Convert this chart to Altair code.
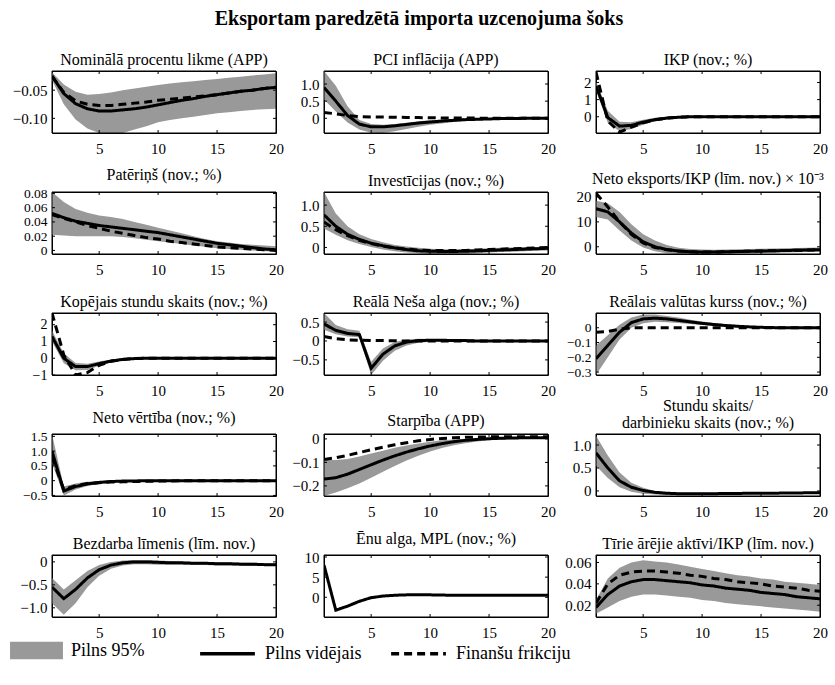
import altair as alt
import pandas as pd

X = list(range(1, 21))
BAND_NAME = "Pilns 95%"
MEAN_NAME = "Pilns vidējais"
FF_NAME = "Finanšu frikciju"

MAIN_TITLE = "Eksportam paredzētā importa uzcenojuma šoks"

titles = [
    "Nominālā procentu likme (APP)",
    "PCI inflācija (APP)",
    "IKP (nov.; %)",
    "Patēriņš (nov.; %)",
    "Investīcijas (nov.; %)",
    "Neto eksports/IKP (līm. nov.) × 10⁻³",
    "Kopējais stundu skaits (nov.; %)",
    "Reālā Neša alga (nov.; %)",
    "Reālais valūtas kurss (nov.; %)",
    "Neto vērtība (nov.; %)",
    "Starpība (APP)",
    ["Stundu skaits/", "darbinieku skaits (nov.; %)"],
    "Bezdarba līmenis (līm. nov.)",
    "Ēnu alga, MPL (nov.; %)",
    "Tīrie ārējie aktīvi/IKP (līm. nov.)",
]

# 1 Nominal interest rate
mean1 = [-0.025, -0.056, -0.074, -0.083, -0.087, -0.087, -0.085, -0.083, -0.080, -0.076, -0.072, -0.068, -0.065, -0.061, -0.058, -0.055, -0.052, -0.050, -0.047, -0.045]
ff1 = [-0.025, -0.054, -0.069, -0.075, -0.077, -0.077, -0.075, -0.073, -0.071, -0.068, -0.066, -0.064, -0.062, -0.060, -0.058, -0.055, -0.052, -0.050, -0.047, -0.045]
hi1 = [-0.018, -0.040, -0.053, -0.058, -0.057, -0.054, -0.050, -0.047, -0.044, -0.041, -0.038, -0.036, -0.034, -0.032, -0.030, -0.028, -0.026, -0.024, -0.022, -0.020]
lo1 = [-0.032, -0.075, -0.102, -0.118, -0.126, -0.128, -0.126, -0.120, -0.114, -0.107, -0.103, -0.100, -0.097, -0.094, -0.091, -0.089, -0.087, -0.085, -0.084, -0.083]

# 2 CPI inflation
mean2 = [0.90, 0.50, 0.08, -0.17, -0.25, -0.25, -0.22, -0.18, -0.14, -0.11, -0.08, -0.06, -0.04, -0.03, -0.02, -0.01, -0.01, 0.0, 0.0, 0.0]
ff2 = [0.17, 0.13, 0.08, 0.05, 0.04, 0.035, 0.03, 0.025, 0.02, 0.015, 0.01, 0.01, 0.005, 0.005, 0.0, 0.0, 0.0, 0.0, 0.0, 0.0]
hi2 = [1.38, 0.95, 0.35, -0.05, -0.17, -0.19, -0.17, -0.13, -0.09, -0.06, -0.04, -0.02, -0.01, 0.0, 0.01, 0.01, 0.01, 0.01, 0.01, 0.01]
lo2 = [0.55, 0.20, -0.12, -0.33, -0.42, -0.43, -0.38, -0.31, -0.25, -0.19, -0.15, -0.11, -0.08, -0.06, -0.04, -0.03, -0.03, -0.02, -0.02, -0.02]

# 3 GDP
mean3 = [1.8, -0.05, -0.55, -0.5, -0.32, -0.17, -0.08, -0.03, 0.0, 0.0, 0.0, 0.0, 0.0, 0.0, 0.0, 0.0, 0.0, 0.0, 0.0, 0.0]
ff3 = [2.6, -0.25, -0.9, -0.6, -0.35, -0.18, -0.08, -0.03, 0.0, 0.0, 0.0, 0.0, 0.0, 0.0, 0.0, 0.0, 0.0, 0.0, 0.0, 0.0]
hi3 = [2.05, 0.35, -0.3, -0.32, -0.17, -0.06, 0.0, 0.03, 0.03, 0.02, 0.02, 0.01, 0.01, 0.01, 0.01, 0.01, 0.01, 0.01, 0.01, 0.01]
lo3 = [1.55, -0.35, -0.85, -0.72, -0.47, -0.27, -0.15, -0.08, -0.04, -0.02, -0.02, -0.01, -0.01, -0.01, -0.01, -0.01, -0.01, -0.01, -0.01, -0.01]

# 4 Consumption
mean4 = [0.052, 0.046, 0.041, 0.038, 0.035, 0.033, 0.031, 0.029, 0.027, 0.025, 0.022, 0.019, 0.016, 0.013, 0.010, 0.008, 0.006, 0.004, 0.002, 0.001]
ff4 = [0.050, 0.045, 0.040, 0.035, 0.031, 0.027, 0.024, 0.021, 0.018, 0.016, 0.013, 0.011, 0.009, 0.007, 0.005, 0.004, 0.003, 0.002, 0.001, 0.000]
hi4 = [0.082, 0.068, 0.058, 0.053, 0.049, 0.047, 0.044, 0.040, 0.036, 0.032, 0.028, 0.024, 0.020, 0.016, 0.013, 0.011, 0.009, 0.008, 0.007, 0.006]
lo4 = [0.022, 0.021, 0.020, 0.020, 0.020, 0.020, 0.019, 0.017, 0.015, 0.013, 0.011, 0.009, 0.007, 0.005, 0.003, 0.002, 0.001, 0.000, -0.001, -0.001]

# 5 Investment
mean5 = [0.77, 0.50, 0.31, 0.19, 0.10, 0.04, -0.01, -0.05, -0.08, -0.09, -0.095, -0.095, -0.09, -0.08, -0.07, -0.06, -0.05, -0.04, -0.03, -0.02]
ff5 = [0.60, 0.42, 0.28, 0.17, 0.09, 0.03, -0.01, -0.04, -0.06, -0.07, -0.075, -0.075, -0.07, -0.06, -0.05, -0.04, -0.03, -0.02, -0.01, 0.0]
hi5 = [1.31, 0.80, 0.50, 0.31, 0.20, 0.12, 0.06, 0.02, -0.01, -0.03, -0.04, -0.04, -0.04, -0.03, -0.02, -0.01, 0.0, 0.01, 0.01, 0.02]
lo5 = [0.45, 0.30, 0.17, 0.08, 0.01, -0.05, -0.09, -0.12, -0.14, -0.155, -0.155, -0.155, -0.15, -0.14, -0.12, -0.11, -0.10, -0.09, -0.08, -0.07]

# 6 Net exports / GDP (x 1e-3)
mean6 = [15.3, 14.0, 10.0, 5.5, 2.0, 0.0, -1.1, -1.7, -2.0, -2.1, -2.1, -2.0, -1.9, -1.8, -1.7, -1.6, -1.5, -1.4, -1.3, -1.2]
ff6 = [21.5, 16.0, 10.0, 5.0, 1.5, -0.3, -1.2, -1.7, -2.0, -2.1, -2.1, -2.0, -1.9, -1.8, -1.7, -1.6, -1.5, -1.4, -1.3, -1.2]
hi6 = [18.5, 17.5, 14.0, 9.0, 5.0, 2.5, 0.7, -0.4, -0.9, -1.1, -1.2, -1.1, -1.0, -0.9, -0.8, -0.7, -0.6, -0.5, -0.4, -0.3]
lo6 = [12.0, 11.0, 6.5, 2.5, -0.3, -1.8, -2.6, -2.9, -3.0, -3.0, -2.9, -2.8, -2.7, -2.6, -2.5, -2.4, -2.3, -2.2, -2.1, -2.0]

# 7 Total hours
mean7 = [1.3, 0.0, -0.5, -0.5, -0.32, -0.17, -0.07, -0.02, 0.0, 0.0, 0.0, 0.0, 0.0, 0.0, 0.0, 0.0, 0.0, 0.0, 0.0, 0.0]
ff7 = [2.7, 0.2, -1.0, -0.85, -0.42, -0.18, -0.07, -0.02, 0.0, 0.0, 0.0, 0.0, 0.0, 0.0, 0.0, 0.0, 0.0, 0.0, 0.0, 0.0]
hi7 = [1.65, 0.3, -0.28, -0.33, -0.2, -0.08, -0.01, 0.02, 0.02, 0.01, 0.01, 0.01, 0.01, 0.01, 0.01, 0.01, 0.01, 0.01, 0.01, 0.01]
lo7 = [1.0, -0.3, -0.72, -0.7, -0.45, -0.26, -0.13, -0.06, -0.03, -0.02, -0.01, -0.01, -0.01, -0.01, -0.01, -0.01, -0.01, -0.01, -0.01, -0.01]

# 8 Real Nash wage
mean8 = [0.45, 0.28, 0.2, 0.17, -0.72, -0.35, -0.13, -0.03, 0.01, 0.02, 0.02, 0.01, 0.01, 0.0, 0.0, 0.0, 0.0, 0.0, 0.0, 0.0]
ff8 = [0.12, 0.06, 0.03, 0.02, 0.01, 0.01, 0.005, 0.0, 0.0, 0.0, 0.0, 0.0, 0.0, 0.0, 0.0, 0.0, 0.0, 0.0, 0.0, 0.0]
hi8 = [0.74, 0.42, 0.31, 0.27, -0.55, -0.2, -0.03, 0.04, 0.06, 0.05, 0.04, 0.03, 0.02, 0.02, 0.01, 0.01, 0.01, 0.01, 0.01, 0.01]
lo8 = [0.3, 0.18, 0.12, 0.1, -0.9, -0.52, -0.26, -0.12, -0.05, -0.02, -0.01, -0.01, -0.01, -0.01, -0.01, -0.01, -0.01, -0.01, -0.01, -0.01]

# 9 Real exchange rate
mean9 = [-0.21, -0.12, -0.03, 0.035, 0.06, 0.065, 0.06, 0.05, 0.04, 0.03, 0.022, 0.015, 0.01, 0.006, 0.003, 0.001, 0.0, 0.0, 0.0, 0.0]
ff9 = [-0.03, -0.025, -0.01, 0.0, 0.0, 0.0, 0.0, 0.0, 0.0, 0.0, 0.0, 0.0, 0.0, 0.0, 0.0, 0.0, 0.0, 0.0, 0.0, 0.0]
hi9 = [-0.12, -0.05, 0.02, 0.07, 0.09, 0.09, 0.08, 0.07, 0.055, 0.043, 0.033, 0.025, 0.018, 0.013, 0.009, 0.006, 0.004, 0.003, 0.002, 0.002]
lo9 = [-0.32, -0.2, -0.08, 0.0, 0.03, 0.04, 0.038, 0.032, 0.025, 0.018, 0.012, 0.007, 0.003, 0.0, -0.002, -0.003, -0.003, -0.003, -0.003, -0.003]

# 10 Net worth
mean10 = [1.0, -0.35, -0.2, -0.11, -0.06, -0.03, -0.015, -0.01, 0.0, 0.0, 0.0, 0.0, 0.0, 0.0, 0.0, 0.0, 0.0, 0.0, 0.0, 0.0]
ff10 = [0.8, -0.3, -0.17, -0.1, -0.07, -0.05, -0.04, -0.03, -0.02, -0.015, -0.01, -0.005, 0.0, 0.0, 0.0, 0.0, 0.0, 0.0, 0.0, 0.0]
hi10 = [1.58, -0.2, -0.1, -0.04, -0.01, 0.01, 0.01, 0.01, 0.01, 0.01, 0.01, 0.01, 0.01, 0.01, 0.01, 0.01, 0.01, 0.01, 0.01, 0.01]
lo10 = [0.6, -0.5, -0.3, -0.18, -0.11, -0.07, -0.04, -0.03, -0.02, -0.015, -0.01, -0.01, -0.01, -0.01, -0.01, -0.01, -0.01, -0.01, -0.01, -0.01]

# 11 Spread
mean11 = [-0.171, -0.165, -0.15, -0.13, -0.11, -0.09, -0.072, -0.056, -0.042, -0.03, -0.02, -0.012, -0.006, -0.002, 0.001, 0.003, 0.004, 0.005, 0.005, 0.005]
ff11 = [-0.088, -0.08, -0.07, -0.058, -0.046, -0.035, -0.025, -0.016, -0.008, -0.002, 0.002, 0.005, 0.007, 0.008, 0.009, 0.009, 0.009, 0.009, 0.009, 0.009]
hi11 = [-0.09, -0.09, -0.085, -0.075, -0.062, -0.05, -0.038, -0.028, -0.019, -0.012, -0.006, -0.002, 0.001, 0.003, 0.005, 0.006, 0.007, 0.007, 0.007, 0.007]
lo11 = [-0.243, -0.228, -0.21, -0.19, -0.165, -0.14, -0.115, -0.092, -0.072, -0.054, -0.039, -0.027, -0.018, -0.011, -0.006, -0.003, -0.001, 0.0, 0.0, 0.0]

# 12 Hours per worker
mean12 = [0.83, 0.5, 0.22, 0.08, 0.01, -0.03, -0.05, -0.06, -0.06, -0.06, -0.06, -0.055, -0.055, -0.05, -0.05, -0.05, -0.045, -0.045, -0.04, -0.04]
hi12 = [1.2, 0.77, 0.4, 0.18, 0.07, 0.0, -0.03, -0.04, -0.04, -0.04, -0.04, -0.035, -0.035, -0.03, -0.03, -0.03, -0.025, -0.025, -0.02, -0.02]
lo12 = [0.55, 0.28, 0.08, -0.02, -0.06, -0.08, -0.09, -0.09, -0.085, -0.08, -0.08, -0.075, -0.07, -0.07, -0.065, -0.06, -0.06, -0.055, -0.055, -0.05]

# 13 Unemployment rate
mean13 = [-0.55, -0.8, -0.6, -0.35, -0.17, -0.07, -0.02, 0.0, 0.0, -0.01, -0.02, -0.02, -0.03, -0.03, -0.04, -0.04, -0.05, -0.05, -0.06, -0.06]
hi13 = [-0.35, -0.6, -0.4, -0.2, -0.07, 0.0, 0.03, 0.04, 0.04, 0.03, 0.02, 0.01, 0.0, 0.0, -0.01, -0.01, -0.02, -0.02, -0.03, -0.03]
lo13 = [-0.9, -1.15, -0.9, -0.55, -0.3, -0.15, -0.08, -0.05, -0.05, -0.06, -0.06, -0.06, -0.07, -0.07, -0.08, -0.08, -0.08, -0.09, -0.09, -0.09]

# 14 Shadow wage, MPL
mean14 = [8.0, -3.2, -2.2, -1.0, -0.1, 0.3, 0.5, 0.6, 0.6, 0.6, 0.55, 0.5, 0.5, 0.5, 0.5, 0.5, 0.5, 0.5, 0.5, 0.5]
hi14 = [8.4, -2.9, -1.9, -0.8, 0.1, 0.45, 0.65, 0.7, 0.7, 0.7, 0.65, 0.6, 0.6, 0.6, 0.6, 0.6, 0.6, 0.6, 0.6, 0.6]
lo14 = [7.6, -3.5, -2.5, -1.2, -0.3, 0.15, 0.35, 0.5, 0.5, 0.5, 0.45, 0.4, 0.4, 0.4, 0.4, 0.4, 0.4, 0.4, 0.4, 0.4]

# 15 Net foreign assets / GDP
mean15 = [0.018, 0.030, 0.038, 0.042, 0.044, 0.044, 0.043, 0.042, 0.041, 0.039, 0.038, 0.036, 0.035, 0.034, 0.032, 0.031, 0.030, 0.028, 0.027, 0.026]
ff15 = [0.022, 0.040, 0.048, 0.051, 0.052, 0.052, 0.051, 0.050, 0.048, 0.047, 0.045, 0.044, 0.042, 0.041, 0.040, 0.038, 0.037, 0.036, 0.034, 0.033]
hi15 = [0.025, 0.045, 0.055, 0.060, 0.062, 0.061, 0.060, 0.058, 0.056, 0.054, 0.052, 0.050, 0.048, 0.047, 0.045, 0.044, 0.042, 0.041, 0.040, 0.039]
lo15 = [0.012, 0.018, 0.024, 0.028, 0.030, 0.030, 0.029, 0.028, 0.027, 0.025, 0.024, 0.022, 0.021, 0.020, 0.019, 0.018, 0.017, 0.016, 0.015, 0.014]

means = [mean1, mean2, mean3, mean4, mean5, mean6, mean7, mean8, mean9, mean10, mean11, mean12, mean13, mean14, mean15]
ffs = [ff1, ff2, ff3, ff4, ff5, ff6, ff7, ff8, ff9, ff10, ff11, None, None, None, ff15]
his = [hi1, hi2, hi3, hi4, hi5, hi6, hi7, hi8, hi9, hi10, hi11, hi12, hi13, hi14, hi15]
los = [lo1, lo2, lo3, lo4, lo5, lo6, lo7, lo8, lo9, lo10, lo11, lo12, lo13, lo14, lo15]

domains = [
    [-0.126, -0.016], [-0.43, 1.38], [-0.95, 2.67],
    [-0.005, 0.082], [-0.155, 1.31], [-2.9, 22.0],
    [-1.0, 2.7], [-0.9, 0.74], [-0.32, 0.10],
    [-0.52, 1.58], [-0.243, 0.021], [-0.11, 1.24],
    [-1.2, 0.15], [-4.9, 10.5], [0.009, 0.067],
]
yticks = [
    [-0.10, -0.05], [0, 0.5, 1.0], [0, 1, 2],
    [0, 0.02, 0.04, 0.06, 0.08], [0, 0.5, 1.0], [0, 10, 20],
    [-1, 0, 1, 2], [-0.5, 0, 0.5], [-0.3, -0.2, -0.1, 0],
    [-0.5, 0, 0.5, 1.0, 1.5], [-0.2, -0.1, 0], [0, 0.5, 1.0],
    [-1.0, -0.5, 0], [0, 5, 10], [0.02, 0.04, 0.06],
]
yfmts = [".2f", ".1f", "d", ".2f", ".1f", "d", "d", ".1f", ".1f", ".1f", ".1f", ".1f", ".1f", "d", ".2f"]
ylabel_sizes = [15, 15, 15, 13.5, 15, 15, 14, 15, 13.5, 13.5, 15, 15, 15, 15, 15]
XMIN, XMAX = 1, 20
xticks = [5, 10, 15, 20]
xinner_ticks = [5, 10, 15]

FONT = "Liberation Serif"
GRAY = "#999999"
W, H = 224, 62
TICK = 3

fill_scale = alt.Scale(domain=[BAND_NAME], range=[GRAY])
stroke_scale = alt.Scale(domain=[MEAN_NAME, FF_NAME], range=["black", "black"])
dash_scale = alt.Scale(domain=[MEAN_NAME, FF_NAME], range=[[1, 0], [8, 5]])

fill_legend = alt.Legend(
    title=None, orient="none", legendX=-42, legendY=553,
    symbolType="M-1,-0.33H1V0.33H-1Z", symbolSize=2800, symbolStrokeWidth=0,
    labelFont=FONT, labelFontSize=18, labelColor="black", labelOffset=8,
)
line_legend = alt.Legend(
    title=None, orient="none", legendX=146, legendY=553, direction="horizontal",
    symbolType="stroke", symbolSize=3000, symbolStrokeWidth=3.5,
    labelFont=FONT, labelFontSize=18, labelColor="black", labelOffset=8,
    columnPadding=22,
)


def make_panel(i):
    band_df = pd.DataFrame({"x": X, "lo": los[i], "hi": his[i], "band": BAND_NAME})
    rows = []
    for j, x in enumerate(X):
        rows.append({"x": x, "v": means[i][j], "s": MEAN_NAME})
    if ffs[i] is not None:
        for j, x in enumerate(X):
            rows.append({"x": x, "v": ffs[i][j], "s": FF_NAME})
    line_df = pd.DataFrame(rows)
    xt_df = pd.DataFrame({"t": xinner_ticks})
    yt_df = pd.DataFrame({"t": yticks[i]})
    one_df = pd.DataFrame({"k": [0]})

    label_expr = "datum.value == 0 ? '0' : format(datum.value, '%s')" % yfmts[i]
    xscale = alt.Scale(domain=[XMIN, XMAX], nice=False, zero=False)
    yscale = alt.Scale(domain=domains[i], nice=False, zero=False)
    xaxis = alt.Axis(values=xticks, title=None, format="d")
    yaxis = alt.Axis(values=yticks[i], title=None, labelExpr=label_expr,
                     labelFontSize=ylabel_sizes[i])

    band = alt.Chart(band_df).mark_area(clip=True, opacity=1).encode(
        x=alt.X("x:Q", scale=xscale, axis=xaxis),
        y=alt.Y("lo:Q", scale=yscale, axis=yaxis),
        y2="hi:Q",
        fill=alt.Fill("band:N", scale=fill_scale, legend=fill_legend),
    )
    lines = alt.Chart(line_df).mark_line(clip=True, strokeWidth=3).encode(
        x=alt.X("x:Q", scale=xscale, axis=xaxis),
        y=alt.Y("v:Q", scale=yscale, axis=yaxis),
        stroke=alt.Stroke("s:N", scale=stroke_scale, legend=line_legend),
        strokeDash=alt.StrokeDash("s:N", scale=dash_scale, legend=line_legend),
        order="x:Q",
    )
    frame = alt.Chart(one_df).mark_rect(
        fillOpacity=0, stroke="black", strokeWidth=1
    ).encode(
        x=alt.value(0), x2=alt.value(W), y=alt.value(0), y2=alt.value(H),
    )
    tick_top = alt.Chart(xt_df).mark_rule(color="black", strokeWidth=1).encode(
        x=alt.X("t:Q", scale=xscale, axis=xaxis),
        y=alt.value(0), y2=alt.value(TICK),
    )
    tick_bot = alt.Chart(xt_df).mark_rule(color="black", strokeWidth=1).encode(
        x=alt.X("t:Q", scale=xscale, axis=xaxis),
        y=alt.value(H), y2=alt.value(H - TICK),
    )
    tick_left = alt.Chart(yt_df).mark_rule(color="black", strokeWidth=1).encode(
        y=alt.Y("t:Q", scale=yscale, axis=yaxis),
        x=alt.value(0), x2=alt.value(TICK),
    )
    tick_right = alt.Chart(yt_df).mark_rule(color="black", strokeWidth=1).encode(
        y=alt.Y("t:Q", scale=yscale, axis=yaxis),
        x=alt.value(W), x2=alt.value(W - TICK),
    )
    return alt.layer(band, lines, frame, tick_top, tick_bot, tick_left, tick_right).properties(
        width=W, height=H,
        title=alt.TitleParams(titles[i], fontSize=16, font=FONT, fontWeight="normal",
                              anchor="middle", offset=3, color="black", lineHeight=17),
    )


panels = [make_panel(i) for i in range(15)]

chart = alt.concat(
    *panels, columns=3, spacing={"row": 59, "column": 48}, bounds="flush"
).properties(
    padding={"left": 10, "top": 9, "right": 3, "bottom": 5},
    title=alt.TitleParams(MAIN_TITLE, fontSize=20, font=FONT, fontWeight="bold",
                          anchor="middle", offset=22, color="black"),
).configure(
    font=FONT
).configure_view(
    stroke="black", strokeWidth=1
).configure_axis(
    grid=False, ticks=False, domain=False,
    labelFont=FONT, labelFontSize=15, labelColor="black", labelPadding=5,
    labelOverlap=False, labelFlush=False, labelBound=False,
).configure_axisX(labelPadding=8)

chart.save("out.html", embed_options={"renderer": "svg", "actions": False})
